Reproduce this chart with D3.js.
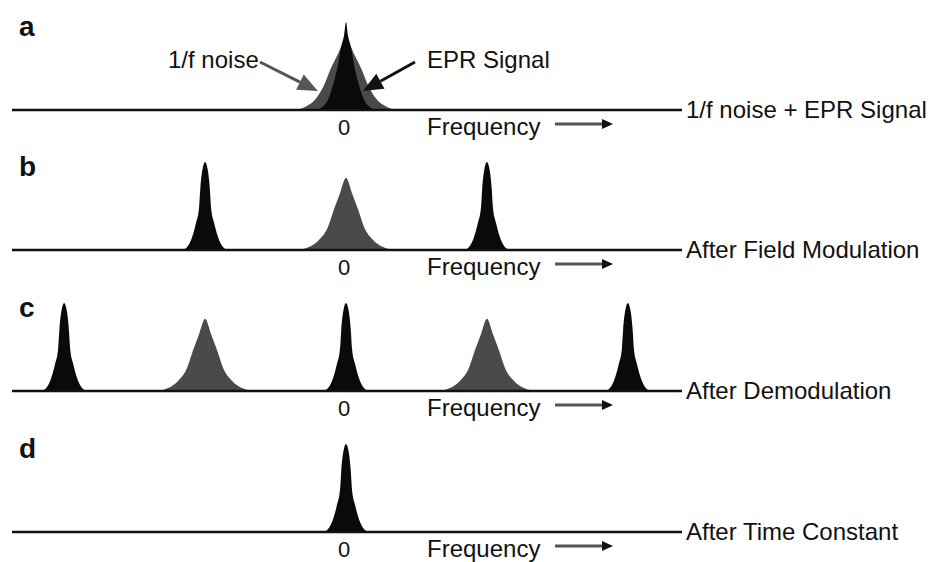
<!DOCTYPE html>
<html>
<head>
<meta charset="utf-8">
<script src="https://cdn.jsdelivr.net/npm/d3@7"></script>
<style>
  body { margin: 0; background: #fff; }
  text { font-family: "Liberation Sans", Arial, sans-serif; fill: #111; }
</style>
</head>
<body>
<script>
// panels, top to bottom
const panelNames = ["a", "b", "c", "d"];
const panelCaptions = ["1/f noise + EPR Signal", "After Field Modulation", "After Demodulation", "After Time Constant"];

// peak centres (in units of the modulation frequency)
const signalCenters = [[0], [-0.5, 0.5], [-1, 0, 1], [0]];
const noiseCenters = [[0], [0], [-0.5, 0.5], []];
const noiseHeight = 0.82;
const noiseHeightA = 0.8;

// half-profiles: offset from centre, relative height
const signalOffsets = [0, 0.009, 0.017, 0.021, 0.032, 0.05, 0.068, 0.085];
const signalHeights = [1, 0.92, 0.69, 0.49, 0.31, 0.11, 0.02, 0];
const signalOffsetsA = [0, 0.007, 0.018, 0.028, 0.043, 0.057, 0.078, 0.107];
const signalHeightsA = [1, 0.85, 0.71, 0.52, 0.32, 0.17, 0.05, 0];
const noiseOffsets = [0, 0.021, 0.043, 0.064, 0.096, 0.132, 0.171];
const noiseHeights = [1, 0.79, 0.56, 0.32, 0.14, 0.04, 0];
const noiseOffsetsA = [0, 0.028, 0.057, 0.078, 0.107, 0.142, 0.185];
const noiseHeightsA = [1, 0.8, 0.56, 0.35, 0.16, 0.05, 0];

const width = 933, height = 562;
const baselines = [110, 250, 391, 532];
const peakPx = 88;

const svg = d3.select("body")
  .append("svg")
  .attr("width", width)
  .attr("height", height);

const x = d3.scaleLinear()
  .domain([-1.185, 1.192])
  .range([12, 682]);

// mirror a half-profile around a centre
function peak(center, offsets, heights, scale) {
  const pts = [];
  for (let i = offsets.length - 1; i > 0; i--) pts.push([center - offsets[i], heights[i] * scale]);
  for (let i = 0; i < offsets.length; i++) pts.push([center + offsets[i], heights[i] * scale]);
  return pts;
}

panelNames.forEach((name, i) => {
  const base = baselines[i];
  const y = d3.scaleLinear().domain([0, 1]).range([base, base - peakPx]);
  const g = svg.append("g");

  const area = d3.area()
    .x(d => x(d[0]))
    .y0(base)
    .y1(d => y(d[1]))
    .curve(d3.curveMonotoneX);

  // 1/f noise (grey)
  const no = i === 0 ? noiseOffsetsA : noiseOffsets;
  const nh = i === 0 ? noiseHeightsA : noiseHeights;
  const ns = i === 0 ? noiseHeightA : noiseHeight;
  g.selectAll(".noise")
    .data(noiseCenters[i])
    .enter().append("path")
    .attr("class", "noise")
    .attr("fill", "#4a4a4a")
    .attr("d", c => area(peak(c, no, nh, ns)));

  // EPR signal (black)
  const so = i === 0 ? signalOffsetsA : signalOffsets;
  const sh = i === 0 ? signalHeightsA : signalHeights;
  g.selectAll(".signal")
    .data(signalCenters[i])
    .enter().append("path")
    .attr("class", "signal")
    .attr("fill", "#0a0a0a")
    .attr("d", c => area(peak(c, so, sh, 1)));

  // baseline
  g.append("line")
    .attr("x1", x.range()[0]).attr("x2", x.range()[1])
    .attr("y1", base).attr("y2", base)
    .attr("stroke", "#111").attr("stroke-width", 2.5);

  // panel letter
  g.append("text")
    .attr("x", 19).attr("y", base - 74)
    .attr("font-size", 28).attr("font-weight", "bold")
    .text(name);

  // caption to the right
  g.append("text")
    .attr("x", 686).attr("y", base + 8)
    .attr("font-size", 24)
    .text(panelCaptions[i]);

  // zero tick label
  g.append("text")
    .attr("x", x(0) - 2).attr("y", base + 25)
    .attr("text-anchor", "middle")
    .attr("font-size", 22)
    .text("0");

  // Frequency label with arrow
  g.append("text")
    .attr("x", 427).attr("y", base + 25)
    .attr("font-size", 24)
    .text("Frequency");
  g.append("line")
    .attr("x1", 555).attr("x2", 604)
    .attr("y1", base + 14).attr("y2", base + 14)
    .attr("stroke", "#555").attr("stroke-width", 3);
  g.append("path")
    .attr("d", `M602,${base + 9}L613,${base + 14}L602,${base + 19}Z`)
    .attr("fill", "#111");
});

// annotations in panel a
function arrow(x1, y1, x2, y2, color, headLen, headW) {
  const ang = Math.atan2(y2 - y1, x2 - x1);
  const bx = x2 - headLen * Math.cos(ang), by = y2 - headLen * Math.sin(ang);
  const px = -Math.sin(ang) * headW / 2, py = Math.cos(ang) * headW / 2;
  svg.append("line")
    .attr("x1", x1).attr("y1", y1).attr("x2", bx).attr("y2", by)
    .attr("stroke", color).attr("stroke-width", 3);
  svg.append("path")
    .attr("d", `M${x2},${y2}L${bx + px},${by + py}L${bx - px},${by - py}Z`)
    .attr("fill", color);
}

svg.append("text")
  .attr("x", 168).attr("y", 68)
  .attr("font-size", 24)
  .text("1/f noise");
svg.append("text")
  .attr("x", 427).attr("y", 68)
  .attr("font-size", 24)
  .text("EPR Signal");

arrow(260, 62, x(-0.1), 91, "#555", 20, 17);
arrow(415, 62, x(0.06), 91, "#111", 20, 17);
</script>
</body>
</html>
